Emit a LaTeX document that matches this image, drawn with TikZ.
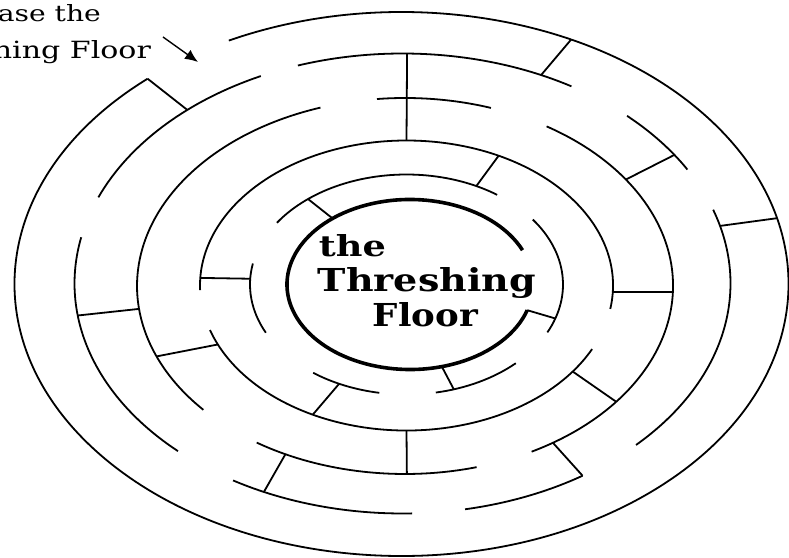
\documentclass[tikz,border=0pt]{standalone}
\usepackage{fontspec}
\usepackage{tikz}
\usepackage{graphicx}
\usetikzlibrary{arrows.meta}
\usetikzlibrary{calc}

\newfontfamily\slab{DejaVu Serif}
\newcommand{\fit}[3]{\resizebox{#1pt}{#2pt}{#3}}

\begin{document}
\begin{tikzpicture}[x=1pt,y=1pt,line width=1.8pt,
  hub/.style={line width=3.6pt},
  title/.style={font=\slab\bfseries,inner sep=0pt},
  note/.style={font=\slab,inner sep=0pt}]
\useasboundingbox (0,0) rectangle (789,557);
\coordinate (c1) at (401.5,273);
\coordinate (c2) at (402.5,273.5);
\coordinate (c3) at (405,271);
\coordinate (c4) at (406.5,271.5);
\coordinate (c5) at (406.5,272.5);
\coordinate (c6) at (410,272.5);
\foreach \a/\b in {131/476.5}{
\draw ($(c1)+(\a:387 and 272)$) arc[start angle=\a,end angle=\b,x radius=387,y radius=272];
}
\foreach \a/\b in {59/108.6,115.6/158,168.4/226.8,238.9/271.7,281/303.3,315.4/378.7,29.7/46.8}{
\draw ($(c2)+(\a:328 and 230)$) arc[start angle=\a,end angle=\b,x radius=328,y radius=230];
}
\foreach \a/\b in {71.3/96,108.4/221.2,236.4/285.5,298.2/418.1}{
\draw ($(c3)+(\a:268 and 188)$) arc[start angle=\a,end angle=\b,x radius=268,y radius=188];
}
\foreach \a/\b in {-9.3/181.8,197.9/334}{
\draw ($(c4)+(\a:206.5 and 145)$) arc[start angle=\a,end angle=\b,x radius=206.5,y radius=145];
}
\foreach \a/\b in {54.6/145.9,169/206,233.4/260,280.8/314.3,334.2/396.2}{
\draw ($(c5)+(\a:156.5 and 110)$) arc[start angle=\a,end angle=\b,x radius=156.5,y radius=110];
}
\draw[hub] ($(c6)+(23.8:123 and 85)$) arc[start angle=23.8,end angle=342.4,x radius=123,y radius=85];
\foreach \a/\b in {131/131,64/65,14/14.5}{
\draw ($(c1)+(\a:387 and 272)$) -- ($(c2)+(\b:328 and 230)$);
}
\foreach \a/\b in {34/34.5,188/187,245/243.5,303.3/303.5}{
\draw ($(c2)+(\a:328 and 230)$) -- ($(c3)+(\b:268 and 188)$);
}
\draw ($(c2)+(89.2:328 and 230)$) -- ($(c4)+(90:206.5 and 145)$);
\foreach \a/\b in {202/204,270.4/270,322/323.6,358.2/357.4}{
\draw ($(c3)+(\a:268 and 188)$) -- ($(c4)+(\b:206.5 and 145)$);
}
\foreach \a/\b in {63.5/63.5,177/177,243/244.5}{
\draw ($(c4)+(\a:206.5 and 145)$) -- ($(c5)+(\b:156.5 and 110)$);
}
\foreach \a/\b in {129/129,287.6/285,342/342.4}{
\draw ($(c5)+(\a:156.5 and 110)$) -- ($(c6)+(\b:123 and 85)$);
}
\node[title,anchor=base west] (the) at (318,300) {\fit{67}{22}{the}};
\node[title,anchor=base west] (threshing) at (317,265) {\fit{218}{24}{Threshing}};
\node[title,anchor=base west] (floor) at (372,230) {\fit{105}{24}{Floor}};
\node[note,anchor=base west] (capA) at (-3,535) {\fit{103}{17}{ase the}};
\node[note,anchor=base west] (capB) at (-8,498.5) {\fit{158}{18}{hing Floor}};
\coordinate (tail) at (163,520);
\coordinate (gate) at (198,495);
\draw[line width=1.4pt,-{Latex[length=13pt,width=11pt]}] (tail) -- (gate);
\end{tikzpicture}
\end{document}
